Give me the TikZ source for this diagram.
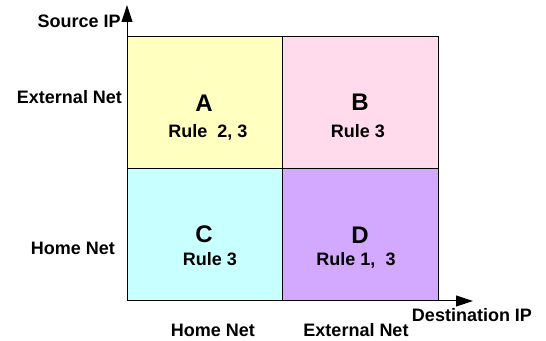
\documentclass[tikz,border=0pt]{standalone}
\usepackage{fontspec}
\setmainfont{Liberation Sans}
\usepackage{xcolor}
\usetikzlibrary{arrows.meta}

\definecolor{cellA}{HTML}{FFFFC0}
\definecolor{cellB}{HTML}{FFDBEC}
\definecolor{cellC}{HTML}{C8FFFF}
\definecolor{cellD}{HTML}{D3A8FF}

\begin{document}
\begin{tikzpicture}[x=0.5pt,y=-0.5pt,
        cell/.style={shape=rectangle,draw=black,line width=0.5pt,minimum width=78pt,minimum height=66pt,inner sep=0pt},
        lbl/.style={font=\fontsize{9}{10}\selectfont\bfseries,inner sep=0pt},
        big/.style={font=\fontsize{12}{13}\selectfont\bfseries,inner sep=0pt},
        axis/.style={-{Triangle[length=8.5pt,width=5.5pt]}, draw=black, line width=0.5pt}]
            \useasboundingbox (0,0) rectangle (546,341);

            \node[cell,fill=cellA] (a) at (205,103) {};
            \node[cell,fill=cellB] (b) at (360.5,103) {};
            \node[cell,fill=cellC] (c) at (205,235) {};
            \node[cell,fill=cellD] (d) at (360.5,235) {};

            \node[big] (la) at (204,103) {A};
            \node[lbl] (ra) at (208,132) {Rule\ \ 2, 3};
            \node[big] (lb) at (360,102) {B};
            \node[lbl] (rb) at (358,131) {Rule 3};
            \node[big] (lc) at (204,234) {C};
            \node[lbl] (rc) at (210,259) {Rule 3};
            \node[big] (ld) at (360,235) {D};
            \node[lbl] (rd) at (356,260) {Rule 1,\ \ 3};

            \coordinate (o) at (127,301);
            \coordinate (ytip) at (127,5);
            \coordinate (xtip) at (473,301);

            \draw [axis] (o) -- (ytip);
            \draw [axis] (o) -- (xtip);

            \node[lbl,anchor=east] (yaxis) at (121,21) {Source IP};
            \node[lbl] (xaxis) at (472,315) {Destination IP};

            \node[lbl] (sext) at (69.5,97) {External Net};
            \node[lbl] (shome) at (73,248) {Home Net};
            \node[lbl] (dhome) at (213,330) {Home Net};
            \node[lbl] (dext) at (356,330) {External Net};
        \end{tikzpicture}
\end{document}
